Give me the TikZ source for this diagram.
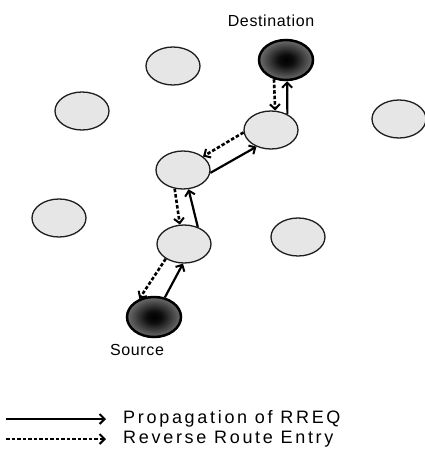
\documentclass[tikz,border=0pt]{standalone}
\usepackage{fontspec}
\setmainfont{Liberation Sans}
\newfontfamily\lblfont[LetterSpace=4]{Liberation Sans}
\newfontfamily\legfont[LetterSpace=15]{Liberation Sans}
\usetikzlibrary{shapes.geometric,arrows.meta}
\pgfdeclareradialshading{endglow}{\pgfpoint{0bp}{0bp}}{color(0bp)=(black); color(7bp)=(black!95); color(26bp)=(black!55); color(42bp)=(black!22); color(50bp)=(black!10)}
\definecolor{nodegray}{HTML}{E6E6E6}
\definecolor{edgeink}{HTML}{1E1E1E}
\begin{document}
\begin{tikzpicture}[x=1pt,y=-1pt,
  plain/.style={ellipse, draw=edgeink, line width=1.3pt, fill=nodegray, minimum width=54pt, minimum height=38pt, inner sep=0pt},
  endnode/.style={ellipse, draw=black, line width=2.5pt, shade, shading=endglow, minimum width=54pt, minimum height=40pt, inner sep=0pt},
  fwd/.style={line width=2.2pt, -{Straight Barb[length=5pt,width=10pt,line width=2pt]}},
  rev/.style={line width=2.6pt, dash pattern=on 3.5pt off 2pt, -{Straight Barb[length=5pt,width=10pt,line width=2pt]}},
  lbl/.style={font=\lblfont\fontsize{16}{19}\selectfont, inner sep=0pt},
  leg/.style={font=\legfont\fontsize{18}{21}\selectfont, inner sep=0pt, anchor=west},
]
\useasboundingbox[fill=white] (0,0) rectangle (425,453);

\node[plain] (g1) at (173,66) {};
\node[plain] (g2) at (82,111) {};
\node[plain] (g3) at (399,119) {};
\node[plain] (g4) at (59,218) {};
\node[plain] (g5) at (298,237) {};
\node[plain] (c3) at (271,130) {};
\node[plain] (c2) at (183,170) {};
\node[plain] (c1) at (184,244) {};
\node[endnode] (d) at (286,60) {};
\node[endnode] (s) at (154,317) {};

\draw[fwd] (s.61) -- (c1.-93);
\draw[rev] (c1.-141) -- (s.129);
\draw[fwd] (c1.51) -- (c2.-74);
\draw[rev] (c2.-114) -- (c1.102);
\draw[fwd] (c2.-6) -- (c3.-131);
\draw[rev] (c3.185) -- (c2.34);
\draw[fwd] (c3.44) -- (d.-87);
\draw[rev] (d.-122) -- (c3.78);

\node[lbl] (dlabel) at (271,21) {Destination};
\node[lbl] (slabel) at (137,350) {Source};

\coordinate (la1) at (6,419);
\coordinate (la2) at (106,419);
\coordinate (lb1) at (6,439);
\coordinate (lb2) at (106,439);
\draw[fwd] (la1) -- (la2);
\draw[rev] (lb1) -- (lb2);
\node[leg] (lt1) at (123,419) {Propagation of RREQ};
\node[leg] (lt2) at (123,439) {Reverse Route Entry};
\end{tikzpicture}
\end{document}
